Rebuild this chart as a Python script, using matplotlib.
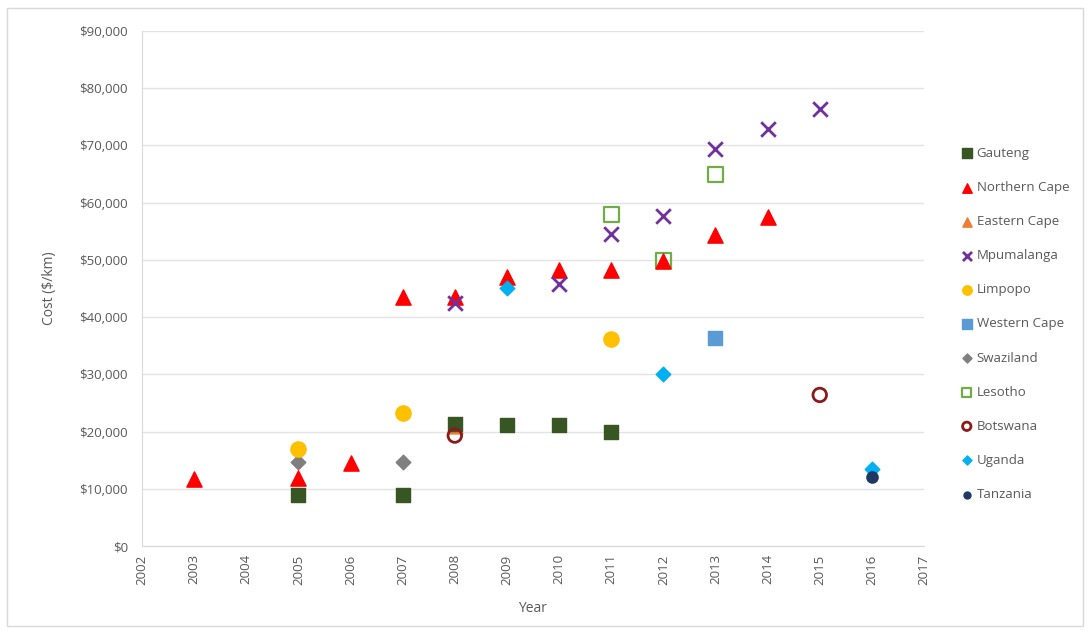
import matplotlib.pyplot as plt
from matplotlib.ticker import FuncFormatter, MultipleLocator
from matplotlib.patches import Rectangle

plt.rcParams['font.family'] = ['Open Sans', 'DejaVu Sans']

# cost per km by region and year
gauteng_yr = [2005, 2007, 2008, 2009, 2010, 2011]
gauteng_cost = [9000, 9000, 21300, 21200, 21200, 20000]

ncape_yr = [2003, 2005, 2006, 2007, 2008, 2009, 2010, 2011, 2012, 2013, 2014]
ncape_cost = [11700, 11900, 14500, 43500, 43500, 47000, 48300, 48300, 49800, 54300, 57500]

ecape_yr = [2008]
ecape_cost = [21000]

mpuma_yr = [2008, 2010, 2011, 2012, 2013, 2014, 2015]
mpuma_cost = [42500, 45800, 54500, 57700, 69300, 72800, 76300]

limpopo_yr = [2005, 2007, 2011]
limpopo_cost = [17000, 23200, 36100]

wcape_yr = [2013]
wcape_cost = [36400]

swazi_yr = [2005, 2007]
swazi_cost = [14600, 14600]

lesotho_yr = [2011, 2012, 2013]
lesotho_cost = [58000, 49900, 65000]

botswana_yr = [2008, 2015]
botswana_cost = [19300, 26400]

uganda_yr = [2009, 2012, 2016]
uganda_cost = [45100, 30100, 13500]

tanzania_yr = [2016]
tanzania_cost = [12000]

grey = '#595959'

fig = plt.figure(figsize=(10.9, 6.31), dpi=100)
ax = fig.add_axes([142 / 1090, 1 - 546 / 631, (924 - 142) / 1090, (546 - 31) / 631])

# outer chart border
fig.patches.append(Rectangle((7 / 1090, 5 / 631), 1076 / 1090, 618 / 631, transform=fig.transFigure,
                             fill=False, edgecolor='#d9d9d9', linewidth=1))

series = [
    ('Eastern Cape', ecape_yr, ecape_cost, dict(marker='^', s=115, color='#ED7D31'), 1.5),
    ('Gauteng', gauteng_yr, gauteng_cost, dict(marker='s', s=115, color='#375623'), 2.6),
    ('Northern Cape', ncape_yr, ncape_cost, dict(marker='^', s=120, color='#FF0000'), 2.5),
    ('Mpumalanga', mpuma_yr, mpuma_cost, dict(marker='x', s=110, color='#7030A0', linewidths=2), 2.7),
    ('Limpopo', limpopo_yr, limpopo_cost, dict(marker='o', s=120, color='#FFC000'), 2.8),
    ('Western Cape', wcape_yr, wcape_cost, dict(marker='s', s=115, color='#5B9BD5'), 2.8),
    ('Swaziland', swazi_yr, swazi_cost, dict(marker='D', s=55, color='#7F7F7F'), 2.4),
    ('Lesotho', lesotho_yr, lesotho_cost, dict(marker='s', s=115, facecolor='none', edgecolor='#70AD47', linewidths=1.6), 2.4),
    ('Botswana', botswana_yr, botswana_cost, dict(marker='o', s=95, facecolor='none', edgecolor='#8B1A1A', linewidths=2), 2.9),
    ('Uganda', uganda_yr, uganda_cost, dict(marker='D', s=55, color='#00B0F0'), 2.9),
    ('Tanzania', tanzania_yr, tanzania_cost, dict(marker='o', s=65, color='#1F3864'), 3.0),
]
handles = {}
for name, xs, ys, kw, z in series:
    handles[name] = ax.scatter(xs, ys, label=name, zorder=z, **kw)

legend_order = ['Gauteng', 'Northern Cape', 'Eastern Cape', 'Mpumalanga', 'Limpopo', 'Western Cape',
                'Swaziland', 'Lesotho', 'Botswana', 'Uganda', 'Tanzania']
leg = fig.legend([handles[n] for n in legend_order], legend_order, loc='upper left',
                 bbox_to_anchor=(945 / 1090, 1 - 135 / 631), frameon=False, fontsize=9.5,
                 markerscale=0.62, labelspacing=1.6, handletextpad=0.0, handlelength=1.5,
                 labelcolor=grey)

ax.set_xlim(2002, 2017)
ax.set_ylim(0, 90000)
ax.xaxis.set_major_locator(MultipleLocator(1))
ax.yaxis.set_major_locator(MultipleLocator(10000))
ax.yaxis.set_major_formatter(FuncFormatter(lambda v, p: f'${v:,.0f}'))
ax.grid(axis='y', color='#e3e3e3', linewidth=1)
ax.set_axisbelow(True)
for side in ['top', 'right']:
    ax.spines[side].set_visible(False)
for side in ['left', 'bottom']:
    ax.spines[side].set_color('#d9d9d9')
ax.tick_params(axis='both', length=0, labelsize=9.5, colors=grey, pad=10)
ax.tick_params(axis='x', labelrotation=90, pad=6)
ax.set_xlabel('Year', fontsize=10, color=grey, labelpad=12)
ax.set_ylabel('Cost ($/km)', fontsize=10, color=grey, labelpad=16)

fig.savefig('out.png', dpi=100)
